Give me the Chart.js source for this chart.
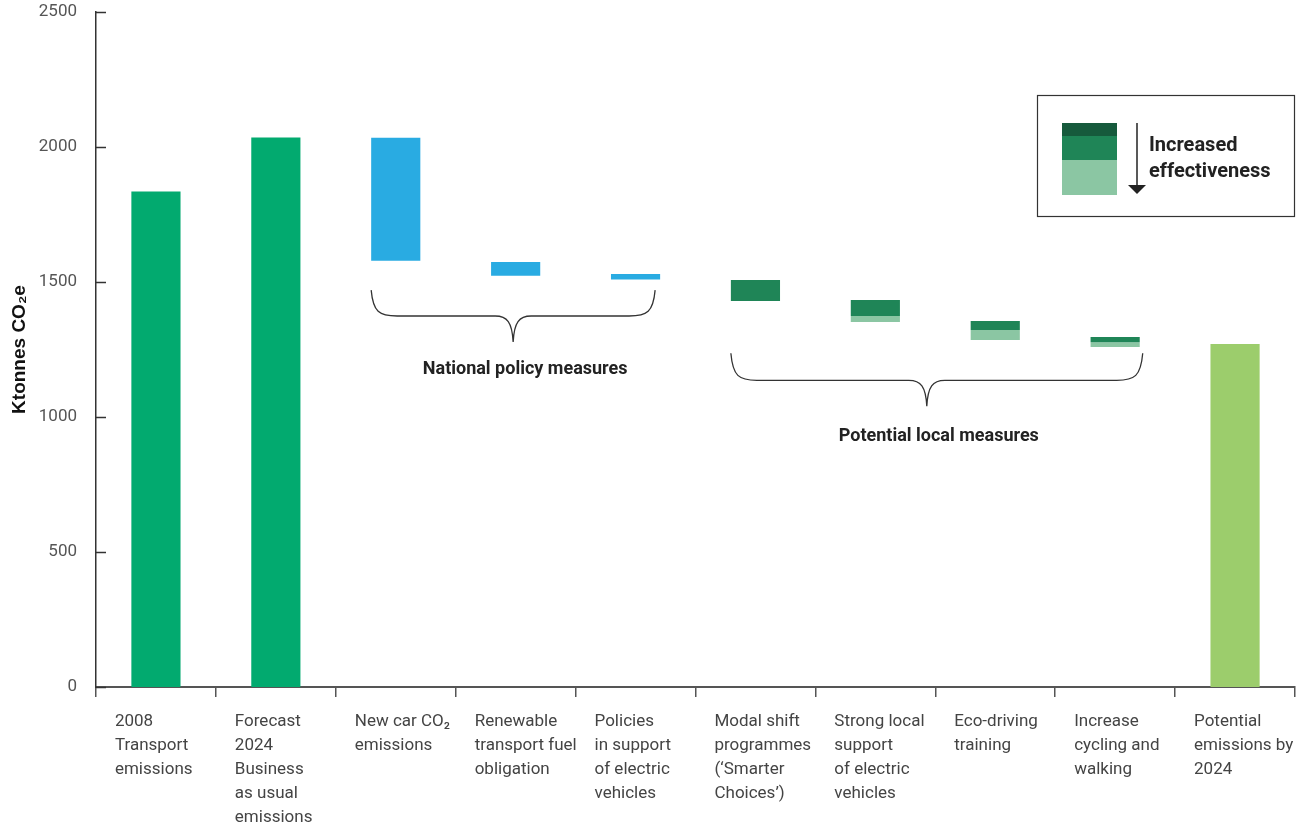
<!DOCTYPE html>
<html>
<head>
<meta charset="utf-8">
<title>Transport emissions waterfall</title>
<script src="https://cdn.jsdelivr.net/npm/chart.js@4.4.1/dist/chart.umd.min.js"></script>
<style>
    html, body { margin: 0; padding: 0; background: #fff; }
    #wrap { width: 1309px; height: 827px; }
</style>
</head>
<body>
<div id="wrap"><canvas id="emissionsChart"></canvas></div>
<script>
// DATA
const categories = [
    ['2008', 'Transport', 'emissions'],
    ['Forecast', '2024', 'Business', 'as usual', 'emissions'],
    ['New car CO₂', 'emissions'],
    ['Renewable', 'transport fuel', 'obligation'],
    ['Policies', 'in support', 'of electric', 'vehicles'],
    ['Modal shift', 'programmes', '(‘Smarter', 'Choices’)'],
    ['Strong local', 'support', 'of electric', 'vehicles'],
    ['Eco-driving', 'training'],
    ['Increase', 'cycling and', 'walking'],
    ['Potential', 'emissions by', '2024']
];

const totalEmissions = [1835, 2035, null, null, null, null, null, null, null, 1270];
const nationalMeasures = [null, null, [1579, 2034], [1523, 1574], [1509, 1530], null, null, null, null, null];
const localMeasures = [null, null, null, null, null, [1430, 1507], [1374, 1433], [1322, 1356], [1277, 1296], null];
const localMeasuresExtra = [null, null, null, null, null, null, [1352, 1374], [1285, 1322], [1259, 1277], null];
const yTicks = [0, 500, 1000, 1500, 2000, 2500];

// colours
const green = '#02aa6f';
const blue = '#29abe2';
const localDark = '#165a3c';
const localMid = '#1f8557';
const localLight = '#8bc6a3';
const potentialGreen = '#9ccd6c';

// brace annotations (category range + value levels)
const braceNotes = [
    { from: 2, to: 4, top: 1470, line: 1374, tip: 1278, tipShift: 0, endShift: -5, label: 'National policy measures', labelAt: 1177, labelShift: 12 },
    { from: 5, to: 8, top: 1236, line: 1136, tip: 1040, tipShift: -10, endShift: 3, label: 'Potential local measures', labelAt: 929, labelShift: 2 }
];

const FONT = 'Roboto';

// y ticks drawn inward from the axis
const inwardTicks = {
    id: 'inwardTicks',
    afterDraw(chart) {
        const y = chart.scales.y;
        const ctx = chart.ctx;
        ctx.save();
        ctx.strokeStyle = '#333';
        ctx.lineWidth = 1.5;
        y.ticks.forEach(t => {
            const py = Math.round(y.getPixelForValue(t.value)) + 0.5;
            ctx.beginPath();
            ctx.moveTo(y.right, py);
            ctx.lineTo(y.right + 10, py);
            ctx.stroke();
        });
        ctx.restore();
    }
};

// curly braces + group labels
const bracePlugin = {
    id: 'braces',
    afterDraw(chart) {
        const x = chart.scales.x;
        const y = chart.scales.y;
        const ctx = chart.ctx;
        const band = (x.right - x.left) / categories.length;
        const half = band * 0.205;
        ctx.save();
        ctx.strokeStyle = '#333';
        ctx.lineWidth = 1.3;
        braceNotes.forEach(b => {
            const x1 = x.getPixelForValue(b.from) - half;
            const x2 = x.getPixelForValue(b.to) + half + b.endShift;
            const tipX = (x1 + x2) / 2 + b.tipShift;
            const yTop = y.getPixelForValue(b.top);
            const yLine = y.getPixelForValue(b.line);
            const yTip = y.getPixelForValue(b.tip);
            ctx.beginPath();
            ctx.moveTo(x1, yTop);
            ctx.bezierCurveTo(x1 + 2, yLine - 4, x1 + 8, yLine, x1 + 26, yLine);
            ctx.lineTo(tipX - 18, yLine);
            ctx.bezierCurveTo(tipX - 6, yLine, tipX - 1, yLine + 6, tipX, yTip);
            ctx.moveTo(tipX, yTip);
            ctx.bezierCurveTo(tipX + 1, yLine + 6, tipX + 6, yLine, tipX + 18, yLine);
            ctx.lineTo(x2 - 26, yLine);
            ctx.bezierCurveTo(x2 - 8, yLine, x2 - 2, yLine - 4, x2, yTop);
            ctx.stroke();

            ctx.fillStyle = '#222';
            ctx.font = 'bold 18px ' + FONT;
            ctx.textAlign = 'center';
            ctx.textBaseline = 'middle';
            ctx.fillText(b.label, (x1 + x2) / 2 + b.labelShift, y.getPixelForValue(b.labelAt));
        });
        ctx.restore();
    }
};

// effectiveness key in the top right
const effectivenessKey = {
    id: 'effectivenessKey',
    afterDraw(chart) {
        const ctx = chart.ctx;
        const area = chart.chartArea;
        const bx = area.right - 258;
        const by = 95;
        ctx.save();
        ctx.strokeStyle = '#333';
        ctx.lineWidth = 1.2;
        ctx.strokeRect(bx + 0.5, by + 0.5, 257, 121);

        ctx.fillStyle = localDark;
        ctx.fillRect(bx + 25, by + 28, 55, 13);
        ctx.fillStyle = localMid;
        ctx.fillRect(bx + 25, by + 41, 55, 24);
        ctx.fillStyle = localLight;
        ctx.fillRect(bx + 25, by + 65, 55, 35);

        // arrow
        ctx.strokeStyle = '#222';
        ctx.lineWidth = 1.5;
        ctx.beginPath();
        ctx.moveTo(bx + 100, by + 28);
        ctx.lineTo(bx + 100, by + 91);
        ctx.stroke();
        ctx.fillStyle = '#222';
        ctx.beginPath();
        ctx.moveTo(bx + 91, by + 90);
        ctx.lineTo(bx + 109, by + 90);
        ctx.lineTo(bx + 100, by + 99);
        ctx.closePath();
        ctx.fill();

        ctx.font = 'bold 20px ' + FONT;
        ctx.textAlign = 'left';
        ctx.textBaseline = 'middle';
        ctx.fillText('Increased', bx + 112, by + 51);
        ctx.fillText('effectiveness', bx + 112, by + 77);
        ctx.restore();
    }
};

const ctx = document.getElementById('emissionsChart').getContext('2d');
new Chart(ctx, {
    type: 'bar',
    data: {
        labels: categories,
        datasets: [
            {
                label: 'Emissions',
                data: totalEmissions,
                backgroundColor: totalEmissions.map((v, i) => i === totalEmissions.length - 1 ? potentialGreen : green)
            },
            {
                label: 'National policy measures',
                data: nationalMeasures,
                backgroundColor: blue
            },
            {
                label: 'Potential local measures',
                data: localMeasures,
                backgroundColor: localMid
            },
            {
                label: 'Potential local measures (more effective)',
                data: localMeasuresExtra,
                backgroundColor: localLight
            }
        ]
    },
    options: {
        responsive: true,
        maintainAspectRatio: false,
        animation: false,
        datasets: {
            bar: {
                grouped: false,
                categoryPercentage: 1,
                barPercentage: 0.41,
                borderWidth: 0
            }
        },
        layout: {
            padding: { top: 12, right: 14, left: 0, bottom: 0 }
        },
        plugins: {
            legend: { display: false },
            tooltip: { enabled: false }
        },
        scales: {
            x: {
                grid: {
                    display: true,
                    drawOnChartArea: false,
                    offset: true,
                    tickLength: 10,
                    color: '#555',
                    lineWidth: 1.5
                },
                border: { display: true, color: '#555', width: 2 },
                ticks: {
                    autoSkip: false,
                    maxRotation: 0,
                    minRotation: 0,
                    align: 'start',
                    labelOffset: -41,
                    padding: 13,
                    color: '#444',
                    font: { family: FONT, size: 17, lineHeight: 1.41 }
                },
                afterFit(scale) {
                    scale.height = 140;
                    scale.paddingLeft = 0;
                    scale.paddingRight = 0;
                }
            },
            y: {
                min: 0,
                max: 2500,
                grid: { display: false },
                border: { display: true, color: '#333', width: 1.5 },
                afterBuildTicks(scale) {
                    scale.ticks = yTicks.map(v => ({ value: v }));
                },
                ticks: {
                    padding: 11,
                    color: '#555',
                    font: { family: FONT, size: 17 },
                    callback: value => String(value)
                },
                title: {
                    display: true,
                    text: 'Ktonnes CO₂e',
                    color: '#111',
                    font: { family: 'Liberation Sans', size: 19, weight: 'bold' },
                    padding: { top: 8, bottom: 0 }
                },
                afterFit(scale) {
                    scale.width = 96;
                    scale.paddingTop = 0;
                    scale.paddingBottom = 0;
                }
            }
        }
    },
    plugins: [inwardTicks, bracePlugin, effectivenessKey]
});
</script>
</body>
</html>
